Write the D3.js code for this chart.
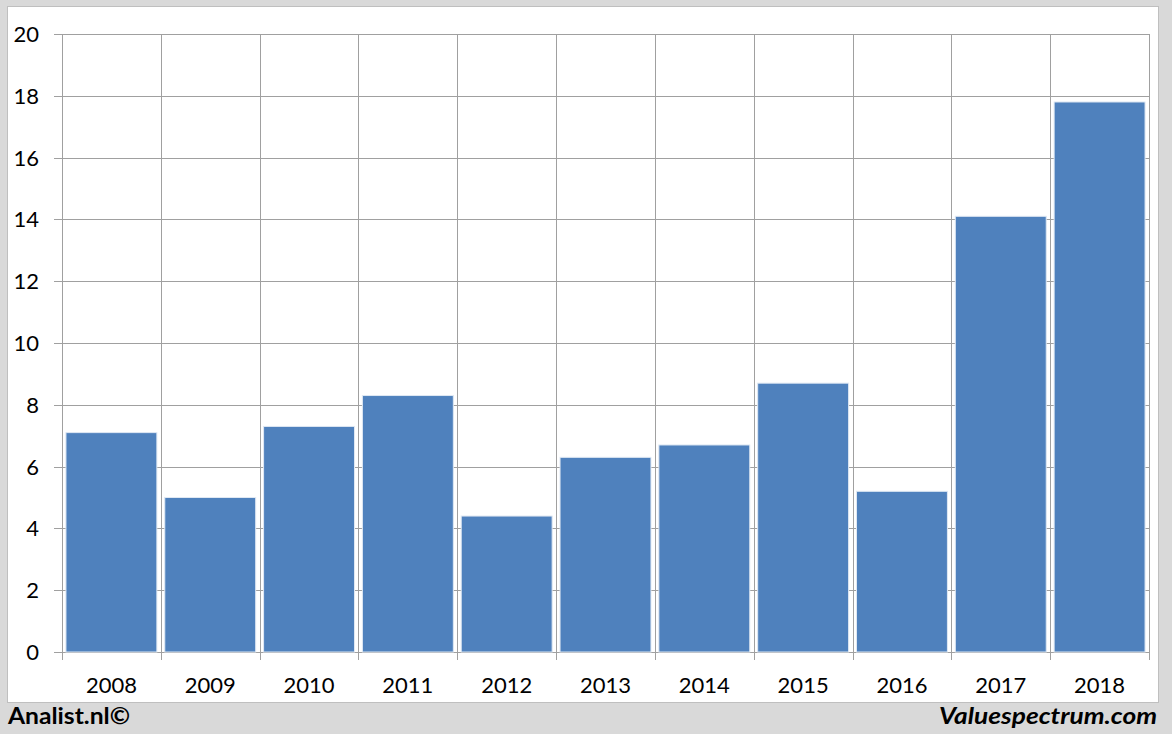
<!DOCTYPE html>
<html><head><meta charset="utf-8">
<script src="https://cdn.jsdelivr.net/npm/d3@7"></script>
<style>
html,body{margin:0;padding:0;background:#d9d9d9;}
svg{display:block;}
</style></head>
<body>
<svg id="chart" width="1172" height="734"></svg>
<script>
const categories = ["2008","2009","2010","2011","2012","2013","2014","2015","2016","2017","2018"];
const values = [7.1, 5.0, 7.3, 8.3, 4.4, 6.3, 6.7, 8.7, 5.2, 14.1, 17.8];
const yTicks = [0, 2, 4, 6, 8, 10, 12, 14, 16, 18, 20];
const footerLeft = "Analist.nl©";
const footerRight = "Valuespectrum.com";

(function () {
const svg = d3.select("#chart");
const W = 1172, H = 734;
const pLeft = 62, pRight = 1149, pTop = 34, pBottom = 652;
const grid = "#a0a0a0";
const font = "Lato, 'Open Sans', sans-serif";

svg.append("rect").attr("width", W).attr("height", H).attr("fill", "#d9d9d9");
svg.append("rect").attr("x", 7.5).attr("y", 6.5).attr("width", 1151).attr("height", 696)
  .attr("fill", "#fff").attr("stroke", "#bfbfbf").attr("stroke-width", 1);

const x = d3.scaleBand().domain(categories).range([pLeft, pRight]).padding(0);
const y = d3.scaleLinear().domain([0, 20]).range([pBottom, pTop]);

// horizontal gridlines + ticks
svg.append("g").selectAll("line").data(yTicks).join("line")
  .attr("x1", pLeft - 8).attr("x2", pRight)
  .attr("y1", d => Math.round(y(d)) + 0.5).attr("y2", d => Math.round(y(d)) + 0.5)
  .attr("stroke", grid).attr("stroke-width", 1);

// vertical gridlines at category boundaries
const bounds = categories.map(c => x(c)).concat([pRight]);
svg.append("g").selectAll("line").data(bounds).join("line")
  .attr("x1", d => Math.round(d) + 0.5).attr("x2", d => Math.round(d) + 0.5)
  .attr("y1", pTop).attr("y2", pBottom + 8)
  .attr("stroke", grid).attr("stroke-width", 1);

// bars
const inset = x.bandwidth() * 0.04;
svg.append("g").selectAll("rect").data(values).join("rect")
  .attr("x", (d, i) => x(categories[i]) + inset)
  .attr("width", x.bandwidth() - 2 * inset)
  .attr("y", d => y(d))
  .attr("height", d => y(0) - y(d))
  .attr("fill", "#4f81bd")
  .attr("stroke", "#dfe8f3").attr("stroke-width", 1);

// y tick labels
svg.append("g").selectAll("text").data(yTicks).join("text")
  .attr("x", 39).attr("y", d => y(d)).attr("dy", "0.36em")
  .attr("text-anchor", "end")
  .attr("font-family", font).attr("font-size", 22).attr("fill", "#000")
  .text(d => d);

// x tick labels
svg.append("g").selectAll("text").data(categories).join("text")
  .attr("x", d => x(d) + x.bandwidth() / 2).attr("y", 693)
  .attr("text-anchor", "middle")
  .attr("font-family", font).attr("font-size", 22).attr("fill", "#000")
  .text(d => d);

// footer
svg.append("text").attr("x", 8).attr("y", 724)
  .attr("font-family", font).attr("font-weight", "bold").attr("font-size", 23)
  .attr("textLength", 122).attr("lengthAdjust", "spacingAndGlyphs")
  .attr("fill", "#000").text(footerLeft);
svg.append("text").attr("x", 939).attr("y", 724)
  .attr("font-family", font).attr("font-weight", "bold").attr("font-style", "italic")
  .attr("font-size", 23).attr("textLength", 218).attr("lengthAdjust", "spacingAndGlyphs")
  .attr("fill", "#000").text(footerRight);
})();
</script>
</body></html>
